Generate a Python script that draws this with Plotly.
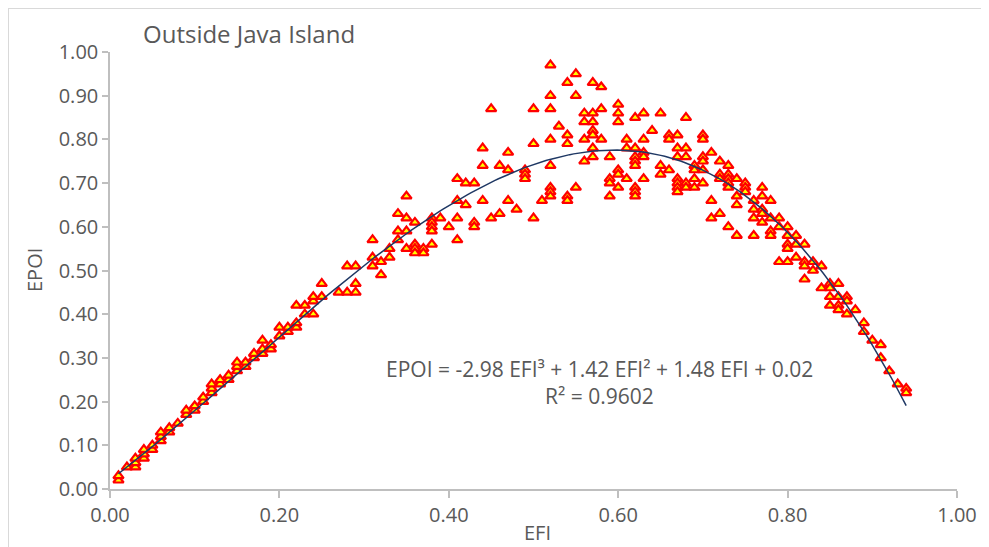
import plotly.graph_objects as go
import numpy as np

title_text = "Outside Java Island"
x_title = "EFI"
y_title = "EPOI"
equation_text = "EPOI = -2.98 EFI³ + 1.42 EFI² + 1.48 EFI + 0.02"
r2_text = "R² = 0.9602"

# cubic trend coefficients (highest power first), as displayed
trend_coef = [-2.98, 1.42, 1.48, 0.02]
trend_range = [0.01, 0.94]

# each line of efi pairs with the same line of epoi
efi = [
    0.01, 0.01, 0.02, 0.03, 0.03, 0.03, 0.04, 0.04, 0.04, 0.05, 0.05,
    0.06, 0.06, 0.06, 0.07, 0.07, 0.08, 0.09, 0.09, 0.10, 0.10,
    0.11, 0.11, 0.12, 0.12, 0.12, 0.13, 0.13, 0.14, 0.14,
    0.15, 0.15, 0.15, 0.16, 0.16, 0.17, 0.17, 0.18, 0.18, 0.18,
    0.19, 0.19, 0.20, 0.20, 0.21, 0.21, 0.22, 0.22, 0.22,
    0.23, 0.23, 0.24, 0.24, 0.24, 0.25, 0.25, 0.27, 0.28, 0.28,
    0.29, 0.29, 0.29, 0.31, 0.31, 0.31, 0.32, 0.32, 0.33, 0.33,
    0.34, 0.34, 0.34, 0.35, 0.35, 0.35, 0.35,
    0.36, 0.36, 0.36, 0.36, 0.37, 0.37,
    0.38, 0.38, 0.38, 0.38, 0.38, 0.39, 0.40,
    0.41, 0.41, 0.41, 0.41, 0.42, 0.42, 0.43, 0.43, 0.43,
    0.44, 0.44, 0.44, 0.45, 0.45, 0.46, 0.46,
    0.47, 0.47, 0.47, 0.48, 0.49, 0.49, 0.49,
    0.50, 0.50, 0.50, 0.51,
    0.52, 0.52, 0.52, 0.52, 0.52, 0.52, 0.52, 0.52,
    0.53, 0.54, 0.54, 0.54, 0.54, 0.54,
    0.55, 0.55, 0.55, 0.56, 0.56, 0.56, 0.56,
    0.57, 0.57, 0.57, 0.57, 0.57, 0.57, 0.57,
    0.58, 0.58, 0.58, 0.59, 0.59, 0.59, 0.59,
    0.60, 0.60, 0.60, 0.60, 0.60, 0.60,
    0.61, 0.61, 0.61,
    0.62, 0.62, 0.62, 0.62, 0.62, 0.62, 0.62, 0.62,
    0.63, 0.63, 0.63, 0.63, 0.63, 0.64,
    0.65, 0.65, 0.65, 0.66, 0.66, 0.66,
    0.67, 0.67, 0.67, 0.67, 0.67, 0.67, 0.67,
    0.68, 0.68, 0.68, 0.68, 0.68,
    0.69, 0.69, 0.69, 0.69,
    0.70, 0.70, 0.70, 0.70, 0.70, 0.70,
    0.71, 0.71, 0.71, 0.72, 0.72, 0.72, 0.72,
    0.73, 0.73, 0.73, 0.73, 0.73, 0.73,
    0.74, 0.74, 0.74, 0.74, 0.75, 0.75, 0.75,
    0.76, 0.76, 0.76, 0.76,
    0.77, 0.77, 0.77, 0.77, 0.77,
    0.78, 0.78, 0.78, 0.78, 0.79, 0.79, 0.79,
    0.80, 0.80, 0.80, 0.80, 0.80, 0.81, 0.81, 0.81,
    0.82, 0.82, 0.82, 0.82, 0.83, 0.83, 0.84, 0.84,
    0.85, 0.85, 0.85, 0.85, 0.86, 0.86, 0.86, 0.86,
    0.87, 0.87, 0.87, 0.88, 0.89, 0.89, 0.90,
    0.91, 0.91, 0.92, 0.93, 0.94, 0.94,
]

epoi = [
    0.02, 0.03, 0.05, 0.05, 0.06, 0.07, 0.07, 0.08, 0.09, 0.09, 0.10,
    0.11, 0.12, 0.13, 0.13, 0.14, 0.15, 0.17, 0.18, 0.18, 0.19,
    0.20, 0.21, 0.22, 0.23, 0.24, 0.24, 0.25, 0.25, 0.26,
    0.27, 0.28, 0.29, 0.28, 0.29, 0.30, 0.31, 0.31, 0.32, 0.34,
    0.32, 0.33, 0.35, 0.37, 0.36, 0.37, 0.37, 0.38, 0.42,
    0.40, 0.42, 0.40, 0.43, 0.44, 0.44, 0.47, 0.45, 0.45, 0.51,
    0.45, 0.47, 0.51, 0.57, 0.53, 0.51, 0.52, 0.49, 0.55, 0.53,
    0.63, 0.59, 0.57, 0.67, 0.62, 0.59, 0.55,
    0.61, 0.56, 0.55, 0.54, 0.55, 0.54,
    0.62, 0.61, 0.60, 0.59, 0.56, 0.62, 0.60,
    0.71, 0.66, 0.62, 0.57, 0.70, 0.65, 0.70, 0.61, 0.60,
    0.78, 0.74, 0.66, 0.87, 0.62, 0.74, 0.63,
    0.77, 0.73, 0.66, 0.64, 0.73, 0.72, 0.71,
    0.87, 0.79, 0.62, 0.66,
    0.97, 0.90, 0.87, 0.80, 0.74, 0.69, 0.68, 0.67,
    0.83, 0.93, 0.81, 0.79, 0.67, 0.66,
    0.95, 0.90, 0.69, 0.86, 0.84, 0.80, 0.75,
    0.93, 0.86, 0.84, 0.82, 0.81, 0.78, 0.76,
    0.92, 0.87, 0.80, 0.76, 0.71, 0.70, 0.67,
    0.88, 0.86, 0.84, 0.73, 0.72, 0.69,
    0.80, 0.78, 0.71,
    0.85, 0.78, 0.76, 0.75, 0.74, 0.69, 0.68, 0.67,
    0.86, 0.80, 0.77, 0.76, 0.71, 0.82,
    0.86, 0.74, 0.72, 0.81, 0.80, 0.73,
    0.81, 0.78, 0.76, 0.71, 0.70, 0.69, 0.68,
    0.85, 0.78, 0.76, 0.70, 0.69,
    0.74, 0.73, 0.71, 0.69,
    0.81, 0.80, 0.76, 0.75, 0.73, 0.70,
    0.77, 0.66, 0.62, 0.75, 0.72, 0.71, 0.63,
    0.74, 0.72, 0.71, 0.70, 0.69, 0.60,
    0.71, 0.67, 0.65, 0.58, 0.70, 0.69, 0.68,
    0.66, 0.64, 0.62, 0.58,
    0.69, 0.67, 0.64, 0.63, 0.61,
    0.66, 0.62, 0.59, 0.58, 0.62, 0.60, 0.52,
    0.60, 0.58, 0.56, 0.55, 0.52, 0.58, 0.56, 0.53,
    0.56, 0.52, 0.51, 0.48, 0.52, 0.50, 0.51, 0.46,
    0.47, 0.46, 0.44, 0.42, 0.47, 0.44, 0.42, 0.41,
    0.44, 0.43, 0.40, 0.41, 0.38, 0.36, 0.34,
    0.33, 0.30, 0.27, 0.24, 0.23, 0.22,
]
assert len(efi) == len(epoi)

x_ticks = [0.0, 0.2, 0.4, 0.6, 0.8, 1.0]
y_ticks = [0.0, 0.1, 0.2, 0.3, 0.4, 0.5, 0.6, 0.7, 0.8, 0.9, 1.0]

FONT = "Open Sans"
TXT = "#595959"
AX = "#BFBFBF"

tx = np.linspace(trend_range[0], trend_range[1], 200)
ty = np.polyval(trend_coef, tx)

fig = go.Figure()
fig.add_trace(go.Scatter(
    x=efi, y=epoi, mode="markers",
    marker=dict(symbol="triangle-up", size=9, color="#FFFF00",
                line=dict(color="#FF0000", width=2.2)),
    showlegend=False, hoverinfo="x+y",
))
fig.add_trace(go.Scatter(
    x=tx, y=ty, mode="lines",
    line=dict(color="#1F3864", width=1.5),
    showlegend=False, hoverinfo="skip",
))

# page body has an 8px margin: figure occupies 8..989 x 8..547
OFF = 8
fig.update_layout(
    width=989 - OFF, height=547 - OFF,
    margin=dict(l=110 - OFF, r=32, t=52 - OFF, b=58),
    paper_bgcolor="white", plot_bgcolor="white",
    font=dict(family=FONT, color=TXT, size=18),
    xaxis=dict(range=[0, 1], tickvals=x_ticks, ticktext=[f"{v:.2f}" for v in x_ticks],
               showgrid=False, zeroline=False, showline=True, linecolor=AX, linewidth=1.5,
               ticks="outside", ticklen=7, tickcolor=AX, tickwidth=1.5,
               tickfont=dict(family=FONT, size=20, color=TXT)),
    yaxis=dict(range=[0, 1], tickvals=y_ticks, ticktext=[f"{v:.2f}" for v in y_ticks],
               showgrid=False, zeroline=False, showline=True, linecolor=AX, linewidth=1.5,
               ticks="outside", ticklen=6, tickcolor=AX, tickwidth=1.5,
               tickfont=dict(family=FONT, size=20, color=TXT)),
)

W, H = 847.0, 437.0
def px(xp):
    return (xp - 110) / W
def py(yp):
    return (489 - yp) / H

anns = [
    dict(text=title_text, x=px(141), y=py(33), xanchor="left", yanchor="middle",
         font=dict(family=FONT, size=24, color=TXT)),
    dict(text=x_title, x=px(537), y=py(532), xanchor="center", yanchor="middle",
         font=dict(family=FONT, size=20, color=TXT)),
    dict(text=y_title, x=px(34), y=py(270), xanchor="center", yanchor="middle", textangle=-90,
         font=dict(family=FONT, size=20, color=TXT)),
    dict(text=equation_text, x=px(599), y=py(369), xanchor="center", yanchor="middle",
         font=dict(family=FONT, size=21, color=TXT)),
    dict(text=r2_text, x=px(599), y=py(396), xanchor="center", yanchor="middle",
         font=dict(family=FONT, size=21, color=TXT)),
]
for a in anns:
    a.update(xref="paper", yref="paper", showarrow=False)
fig.update_layout(annotations=anns)

fig.add_shape(type="line", xref="paper", yref="paper", x0=px(8), x1=px(1100), y0=py(8.5), y1=py(8.5),
              line=dict(color="#D9D9D9", width=1))
fig.add_shape(type="line", xref="paper", yref="paper", x0=px(8.5), x1=px(8.5), y0=py(600), y1=py(8),
              line=dict(color="#D9D9D9", width=1))

fig.write_html("out.html")
